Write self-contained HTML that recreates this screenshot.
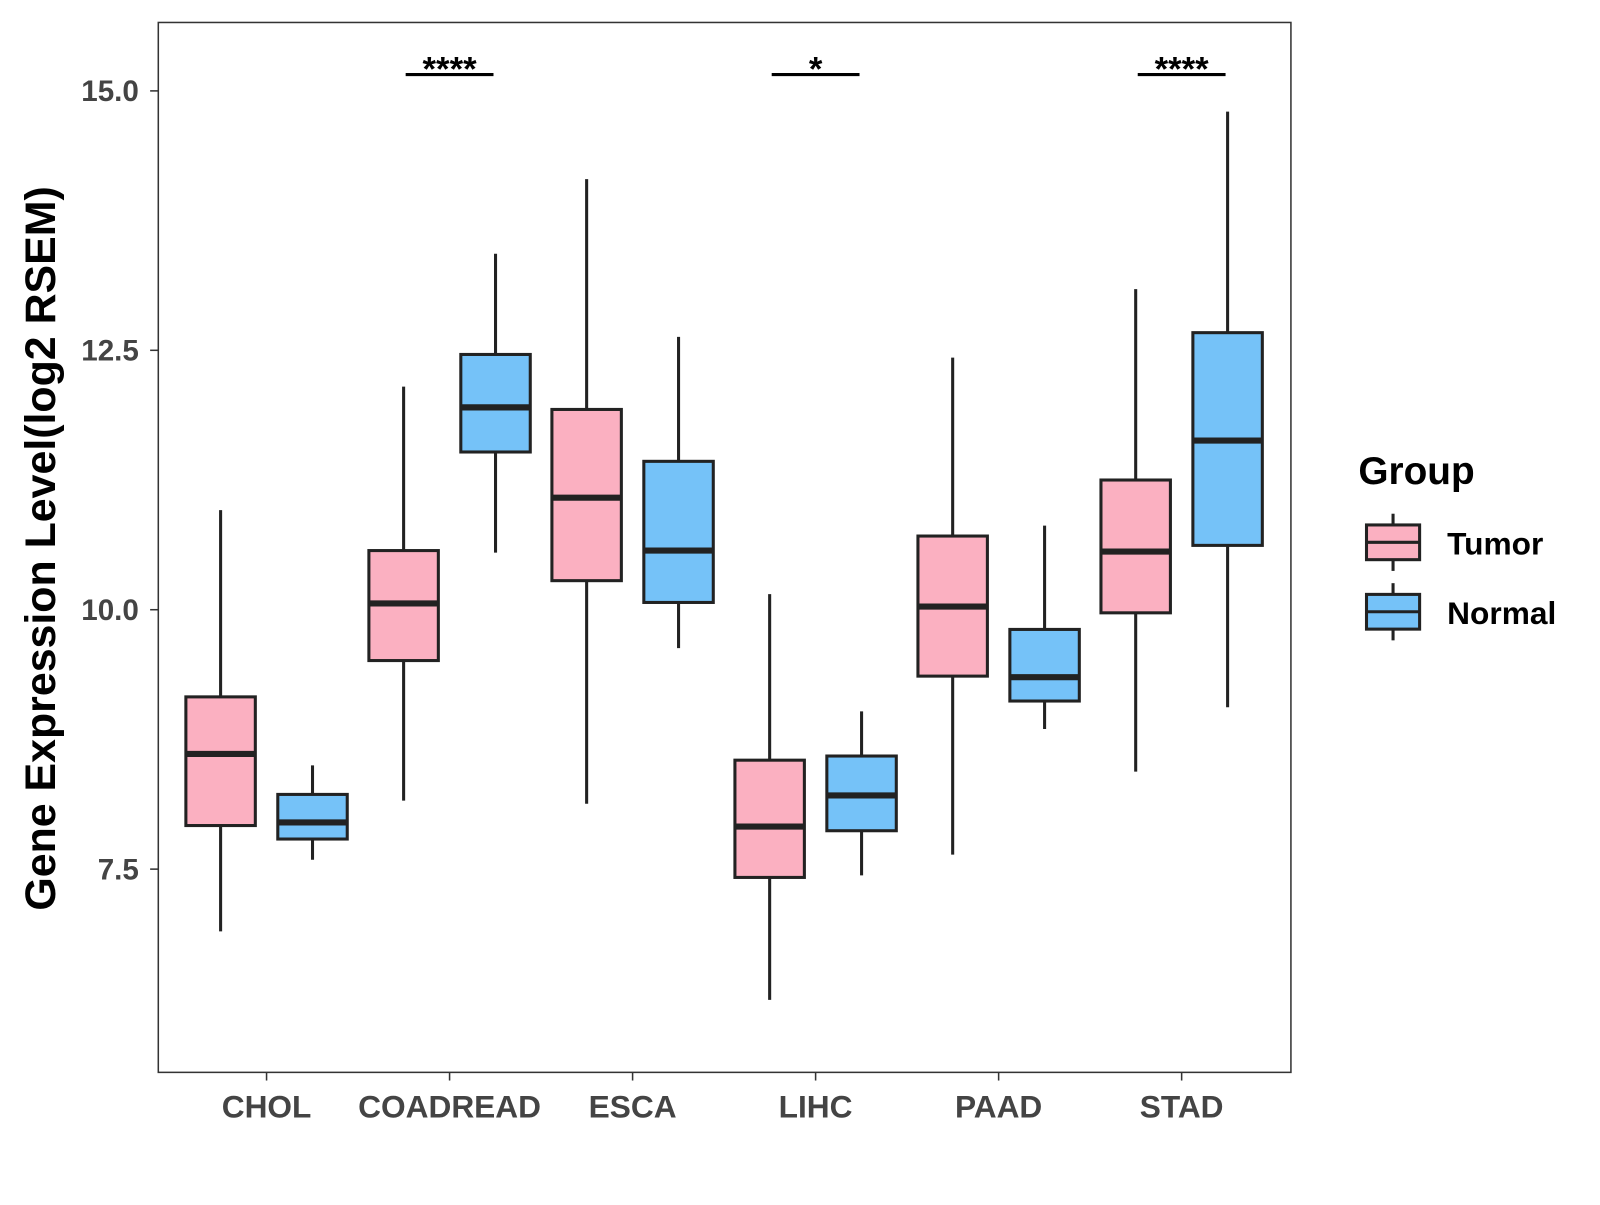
<!DOCTYPE html>
<html><head><meta charset="utf-8"><style>
body{margin:0;background:#fff;}
svg{font-family:"Liberation Sans",Arial,sans-serif;}
</style></head><body>
<svg id="chart" width="1600" height="1200" xmlns="http://www.w3.org/2000/svg">
<rect x="0" y="0" width="1600" height="1200" fill="#fff"/>
<g transform="scale(1.0213)">
<g id="plot"></g>
<rect x="155" y="22" width="1109" height="1028" fill="none" stroke="#333" stroke-width="1.5"/>
<text transform="translate(54,537) rotate(-90)" text-anchor="middle" font-size="42" font-weight="bold" fill="#000">Gene Expression Level(log2 RSEM)</text>
<g>
<text x="1330" y="474" font-size="38" font-weight="bold">Group</text>
<line x1="1364" y1="503" x2="1364" y2="559" stroke="#222" stroke-width="3"/>
<rect x="1338" y="514" width="52" height="34" fill="#FBB0C1" stroke="#222" stroke-width="3"/>
<line x1="1338" y1="531" x2="1390" y2="531" stroke="#222" stroke-width="3"/>
<text x="1417" y="543" font-size="31" font-weight="bold">Tumor</text>
<line x1="1364" y1="571" x2="1364" y2="627" stroke="#222" stroke-width="3"/>
<rect x="1338" y="582" width="52" height="34" fill="#75C2F8" stroke="#222" stroke-width="3"/>
<line x1="1338" y1="599" x2="1390" y2="599" stroke="#222" stroke-width="3"/>
<text x="1417" y="611" font-size="31" font-weight="bold">Normal</text>
</g>
</g>
</svg>
<script>
const categories=["CHOL","COADREAD","ESCA","LIHC","PAAD","STAD"];
const tumorStats=[[6.90,7.92,8.61,9.16,10.96],[8.16,9.51,10.06,10.57,12.15],[8.13,10.28,11.08,11.93,14.15],[6.24,7.42,7.91,8.55,10.15],[7.64,9.36,10.03,10.71,12.43],[8.44,9.97,10.56,11.25,13.09]];
const normalStats=[[7.59,7.79,7.95,8.22,8.50],[10.55,11.52,11.95,12.46,13.43],[9.63,10.07,10.57,11.43,12.63],[7.44,7.87,8.21,8.59,9.02],[8.85,9.12,9.35,9.81,10.81],[9.06,10.62,11.63,12.67,14.80]];
const yTicks=[7.5,10.0,12.5,15.0];
const yTickLabels=["7.5","10.0","12.5","15.0"];
const sigLabels=["","****","","*","","****"];

const NS="http://www.w3.org/2000/svg";
const g=document.getElementById("plot");
function y(v){return 597-(v-10)*101.6;}
function x(i){return 261+i*179.2;}
function el(tag,attrs,parent){const e=document.createElementNS(NS,tag);for(const k in attrs)e.setAttribute(k,attrs[k]);(parent||g).appendChild(e);return e;}

yTicks.forEach((t,i)=>{
  const l=el("line",{x1:147,x2:155,y1:y(t),y2:y(t),stroke:"#333","stroke-width":1.5});
  
  
  const tx=el("text",{x:136,y:y(t)+10,"text-anchor":"end","font-size":29,"font-weight":"bold",fill:"#444"});
  tx.textContent=yTickLabels[i];
  
  
});
categories.forEach((c,i)=>{
  const l=el("line",{x1:x(i),x2:x(i),y1:1050,y2:1058,stroke:"#333","stroke-width":1.5});
  
  
  const tx=el("text",{x:x(i),y:1094,"text-anchor":"middle","font-size":31,"font-weight":"bold",fill:"#444"});
  tx.textContent=c;
  
  
  [[tumorStats[i],-45,"#FBB0C1","tumor"],[normalStats[i],45,"#75C2F8","normal"]].forEach(([s,off,fill,nm])=>{
    const cx=x(i)+off,w=68;
    const grp=el("g",{});
    
    
    el("line",{x1:cx,x2:cx,y1:y(s[0]),y2:y(s[4]),stroke:"#222","stroke-width":3},grp);
    el("rect",{x:cx-w/2,y:y(s[3]),width:w,height:y(s[1])-y(s[3]),fill:fill,stroke:"#222","stroke-width":3},grp);
    el("line",{x1:cx-w/2,x2:cx+w/2,y1:y(s[2]),y2:y(s[2]),stroke:"#222","stroke-width":6},grp);
  });
  if(sigLabels[i]){
    const sg=el("g",{});
    
    
    el("line",{x1:x(i)-43,x2:x(i)+43,y1:73,y2:73,stroke:"#000","stroke-width":3},sg);
    const st=el("text",{x:x(i),y:79,"text-anchor":"middle","font-size":34,"font-weight":"bold"},sg);
    st.textContent=sigLabels[i];
  }
});
</script>
</body></html>
